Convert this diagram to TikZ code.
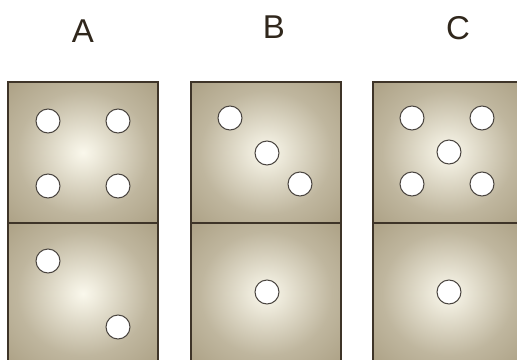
\documentclass[tikz,border=0pt]{standalone}
\usepackage{fontspec}
\setmainfont{Liberation Sans}
\usetikzlibrary{fadings}

\definecolor{tilebase}{HTML}{A69A7D}
\definecolor{tilelight}{HTML}{FAF8EC}
\definecolor{tileedge}{HTML}{3E3428}
\definecolor{pipedge}{HTML}{4A4540}
\definecolor{lettercol}{HTML}{30271C}

\pgfdeclareradialshading{tileglow}{\pgfpoint{0bp}{0bp}}{color(0bp)=(tilelight); color(5bp)=(tilelight!85!tilebase); color(22bp)=(tilelight!30!tilebase); color(40bp)=(tilebase); color(50bp)=(tilebase)}
\tikzfading[name=vstreak, left color=transparent!100, middle color=transparent!0, right color=transparent!100]
\tikzfading[name=hstreak, top color=transparent!100, middle color=transparent!0, bottom color=transparent!100]

\begin{document}
\begin{tikzpicture}[x=1pt, y=-1pt,
    half node/.style={rectangle, inner sep=0pt, minimum width=150pt, minimum height=141pt, shading=tileglow},
    pip node/.style={circle, draw=pipedge, line width=1pt, fill=white, inner sep=0pt, minimum size=24pt},
    letter node/.style={inner sep=0pt, text=lettercol, font=\fontsize{33}{38}\selectfont},
    edge line/.style={draw=tileedge, line width=1.6pt},
    streak/.style={fill=tilelight, opacity=.6}]
\useasboundingbox (0,0) rectangle (517,359);

% letters
\node[letter node] (labA) at (83,31) {A};
\node[letter node] (labB) at (274,27) {B};
\node[letter node] (labC) at (458,28) {C};

% tile halves
\node[half node] (A1) at (83,152.5) {};
\node[half node] (A2) at (83,293.5) {};
\node[half node] (B1) at (266,152.5) {};
\node[half node] (B2) at (266,293.5) {};
\node[half node] (C1) at (448,152.5) {};
\node[half node] (C2) at (448,293.5) {};

% light streaks and outlines
\foreach \t in {A1,A2,B1,B2,C1,C2}{
    \fill[streak, path fading=vstreak] (\t.north west) rectangle (\t.south east);
    \fill[streak, path fading=hstreak] (\t.north west) rectangle (\t.south east);
    \draw[edge line] (\t.north west) rectangle (\t.south east);
}

% pips on A
\node[pip node] (a1) at (48,121) {};
\node[pip node] (a2) at (118,121) {};
\node[pip node] (a3) at (48,186) {};
\node[pip node] (a4) at (118,186) {};
\node[pip node] (a5) at (48,261) {};
\node[pip node] (a6) at (118,327) {};

% pips on B
\node[pip node] (b1) at (230,118) {};
\node[pip node] (b2) at (267,153) {};
\node[pip node] (b3) at (300,184) {};
\node[pip node] (b4) at (267,292) {};

% pips on C
\node[pip node] (c1) at (412,118) {};
\node[pip node] (c2) at (482,118) {};
\node[pip node] (c3) at (449,152) {};
\node[pip node] (c4) at (412,184) {};
\node[pip node] (c5) at (482,184) {};
\node[pip node] (c6) at (449,292) {};
\end{tikzpicture}
\end{document}
